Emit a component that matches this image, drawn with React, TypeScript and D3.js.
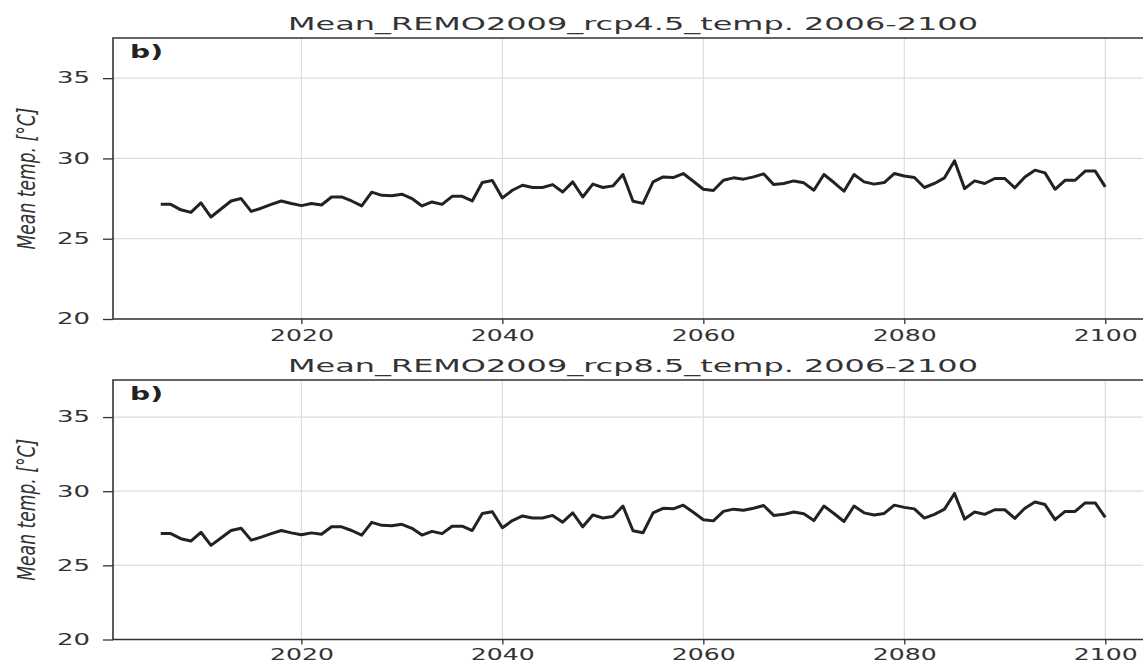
import React, { useEffect, useRef } from "react";
import * as d3 from "d3";

// yearly mean temperature (both panels show the same curve)
const years = d3.range(2006, 2101);
const temp45 = [
  27.14, 27.14, 26.8, 26.64, 27.23, 26.35, 26.85, 27.35, 27.5, 26.7,
  26.9, 27.14, 27.35, 27.19, 27.06, 27.19, 27.1, 27.6, 27.6, 27.35,
  27.04, 27.9, 27.7, 27.67, 27.77, 27.5, 27.04, 27.29, 27.14, 27.64,
  27.64, 27.35, 28.5, 28.62, 27.54, 28.02, 28.33, 28.19, 28.19, 28.37,
  27.91, 28.54, 27.6, 28.4, 28.19, 28.29, 29.0, 27.33, 27.2, 28.54,
  28.85, 28.81, 29.06, 28.58, 28.08, 28.0, 28.64, 28.79, 28.71, 28.85,
  29.04, 28.37, 28.44, 28.6, 28.48, 28.02, 29.0, 28.5, 27.96, 29.0,
  28.54, 28.4, 28.5, 29.06, 28.91, 28.81, 28.19, 28.44, 28.79, 29.85,
  28.12, 28.6, 28.44, 28.75, 28.75, 28.17, 28.85, 29.27, 29.1, 28.08,
  28.64, 28.64, 29.21, 29.21, 28.23,
];
const temp85 = [...temp45];

const titles = [
  "Mean_REMO2009_rcp4.5_temp. 2006-2100",
  "Mean_REMO2009_rcp8.5_temp. 2006-2100",
];
const xTicks = [2020, 2040, 2060, 2080, 2100];
const yTicks = [20, 25, 30, 35];
const panelTag = "b)";
const yLabel = "Mean temp. [°C]";

const W = 1143;
const H = 662;
const FONT = "DejaVu Sans, sans-serif";
const INK = "#333";

export default function App() {
  const ref = useRef<SVGSVGElement>(null);

  useEffect(() => {
    drawChart();
  }, []);

  function drawChart() {
    const svg = d3.select(ref.current);
    svg.selectAll("*").remove();

    // the picture is stretched sideways, the right spine falls outside of it
    const x = d3.scaleLinear().domain([2001.25, 2104.75]).range([113, 1153]);
    const panels = [
      { top: 38, bottom: 319, data: temp45, title: titles[0], labelY: 22 },
      { top: 380, bottom: 639.5, data: temp85, title: titles[1], labelY: 20 },
    ];

    panels.forEach((p) => {
      const y = d3.scaleLinear().domain([20, 37.5]).range([p.bottom, p.top]);
      const g = svg.append("g");

      // grid
      g.selectAll(".vg")
        .data(xTicks)
        .enter()
        .append("line")
        .attr("x1", (d) => x(d))
        .attr("x2", (d) => x(d))
        .attr("y1", p.top)
        .attr("y2", p.bottom)
        .attr("stroke", "#dcdcdc")
        .attr("stroke-width", 1.2);
      g.selectAll(".hg")
        .data(yTicks)
        .enter()
        .append("line")
        .attr("x1", x.range()[0])
        .attr("x2", x.range()[1])
        .attr("y1", (d) => y(d))
        .attr("y2", (d) => y(d))
        .attr("stroke", "#dcdcdc")
        .attr("stroke-width", 1.2);

      // data line
      const line = d3
        .line<number>()
        .x((d, i) => x(years[i]))
        .y((d) => y(d));
      g.append("path")
        .datum(p.data)
        .attr("d", line)
        .attr("fill", "none")
        .attr("stroke", "#222")
        .attr("stroke-width", 3)
        .attr("stroke-linejoin", "round");

      // axes
      const ya = g
        .append("g")
        .attr("transform", `translate(${x.range()[0]},0)`)
        .call(d3.axisLeft(y).tickValues(yTicks).tickSize(10).tickPadding(13).tickSizeOuter(0));
      ya.select(".domain").remove();
      ya.selectAll(".tick line").attr("stroke", INK).attr("stroke-width", 1.3);
      ya.selectAll(".tick text")
        .attr("font-family", FONT)
        .attr("font-size", 15)
        .attr("fill", INK)
        .attr("textLength", 33)
        .attr("lengthAdjust", "spacingAndGlyphs");

      const xa = g
        .append("g")
        .attr("transform", `translate(0,${p.bottom})`)
        .call(d3.axisBottom(x).tickValues(xTicks).tickFormat(d3.format("d")).tickSize(5).tickSizeOuter(0));
      xa.select(".domain").remove();
      xa.selectAll(".tick line").attr("stroke", INK).attr("stroke-width", 1.3);
      xa.selectAll(".tick text")
        .attr("font-family", FONT)
        .attr("font-size", 15)
        .attr("fill", INK)
        .attr("y", p.labelY)
        .attr("dy", 0)
        .attr("textLength", 64)
        .attr("lengthAdjust", "spacingAndGlyphs");

      // spines
      const [x0, x1] = x.range();
      g.append("path")
        .attr("d", `M${x1},${p.top}H${x0}V${p.bottom}H${x1}`)
        .attr("fill", "none")
        .attr("stroke", INK)
        .attr("stroke-width", 1.6);

      // title
      g.append("text")
        .attr("x", (x0 + x1) / 2)
        .attr("y", p.top - 8)
        .attr("text-anchor", "middle")
        .attr("font-family", FONT)
        .attr("font-size", 18)
        .attr("fill", INK)
        .attr("textLength", 690)
        .attr("lengthAdjust", "spacingAndGlyphs")
        .text(p.title);

      // panel tag
      g.append("text")
        .attr("x", 130)
        .attr("y", p.top + 20)
        .attr("font-family", FONT)
        .attr("font-weight", "bold")
        .attr("font-size", 17)
        .attr("fill", "#222")
        .attr("textLength", 33)
        .attr("lengthAdjust", "spacingAndGlyphs")
        .text(panelTag);

      // y label, rotated and widened like the rest of the picture
      g.append("text")
        .attr("transform", `translate(35,${(p.top + p.bottom) / 2}) scale(1.75,1) rotate(-90)`)
        .attr("text-anchor", "middle")
        .attr("font-family", FONT)
        .attr("font-style", "italic")
        .attr("font-size", 14)
        .attr("fill", INK)
        .attr("textLength", 142)
        .attr("lengthAdjust", "spacingAndGlyphs")
        .text(yLabel);
    });
  }

  return (
    <svg
      ref={ref}
      width={W}
      height={H}
      style={{ position: "absolute", left: 0, top: 0, background: "#fff" }}
    />
  );
}
